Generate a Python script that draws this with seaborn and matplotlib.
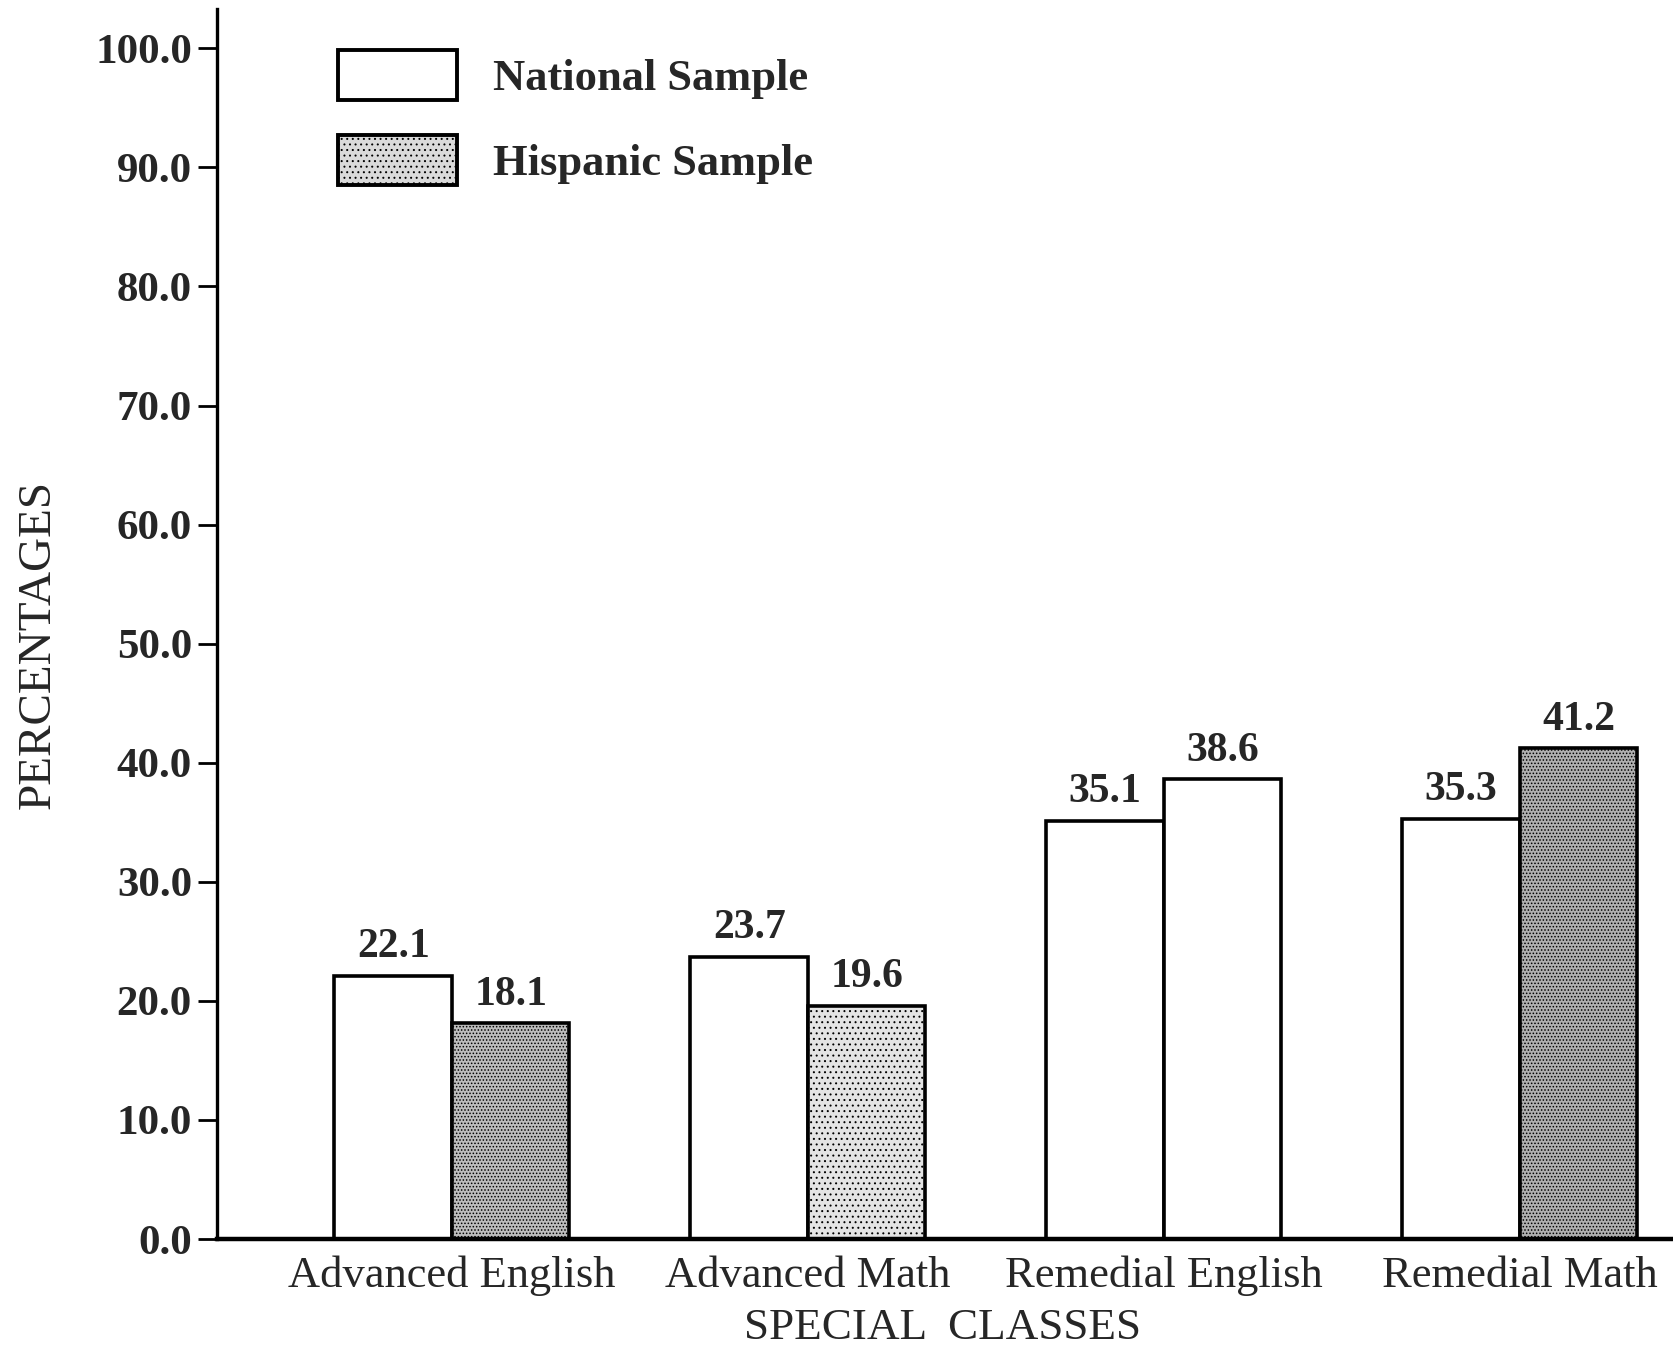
import matplotlib
matplotlib.use("Agg")
import matplotlib.pyplot as plt
import seaborn as sns
import pandas as pd
from matplotlib.patches import Patch

# Percent of students enrolled in special classes
classes = ["Advanced English", "Advanced Math", "Remedial English", "Remedial Math"]
national = [22.1, 23.7, 35.1, 35.3]
hispanic = [18.1, 19.6, 38.6, 41.2]
samples = ["National Sample", "Hispanic Sample"]
y_ticks = [0, 10, 20, 30, 40, 50, 60, 70, 80, 90, 100]

# stipple shading of the Hispanic bars
hisp_faces = ["#bdbdbd", "#e4e4e4", "#ffffff", "#b0b0b0"]
hisp_hatches = [".....", "...", "", "....."]

df = pd.DataFrame({
    "Class": classes * 2,
    "Sample": [samples[0]] * len(classes) + [samples[1]] * len(classes),
    "Percent": national + hispanic,
})

sns.set_theme(style="white")
plt.rcParams["font.family"] = ["Liberation Serif", "DejaVu Serif"]
plt.rcParams["hatch.linewidth"] = 0.7

W, H = 1673, 1351
fig = plt.figure(figsize=(W / 100, H / 100), dpi=100)
ax = fig.add_axes([217 / W, 112 / H, (W - 217) / W, 1230 / H])

sns.barplot(
    data=df, x="Class", y="Percent", hue="Sample",
    order=classes, hue_order=samples,
    palette=["white", "#c8c8c8"], saturation=1,
    width=0.66, gap=0, edgecolor="black", linewidth=2.6,
    legend=False, ax=ax,
)

for patch, fc, ht in zip(ax.containers[1], hisp_faces, hisp_hatches):
    patch.set_facecolor(fc)
    patch.set_hatch(ht)

for cont, vals in zip(ax.containers, [national, hispanic]):
    ax.bar_label(cont, labels=[f"{v:.1f}" for v in vals], padding=7,
                 fontsize=30, fontweight="bold")

ax.set_xlim(-0.66, 3.43)
ax.set_ylim(0, 103.3)
ax.set_yticks(y_ticks)
ax.set_yticklabels([f"{t:.1f}" for t in y_ticks], fontsize=31, fontweight="bold")
ax.tick_params(axis="y", left=True, length=14, width=2, direction="out",
               pad=4, color="black")
ax.tick_params(axis="x", bottom=False, length=0, pad=12, labelsize=32)

for side in ["top", "right"]:
    ax.spines[side].set_visible(False)
ax.spines["left"].set_color("black")
ax.spines["left"].set_linewidth(2.4)
ax.spines["bottom"].set_color("black")
ax.spines["bottom"].set_linewidth(3.2)

ax.set_xlabel("SPECIAL  CLASSES", fontsize=32.5)
ax.set_ylabel("PERCENTAGES", fontsize=34)
ax.xaxis.set_label_coords(0.498, -0.056)
ax.yaxis.set_label_coords(-0.108, 0.483)

handles = [
    Patch(facecolor="white", edgecolor="black", linewidth=2.8),
    Patch(facecolor="#dadada", edgecolor="black", hatch="...", linewidth=2.8),
]
fig.legend(handles, samples, loc="upper left",
           bbox_to_anchor=(338 / W, 1 - 50 / H), frameon=False,
           prop={"size": 32, "weight": "bold"},
           handlelength=2.68, handleheight=1.354, labelspacing=0.79,
           handletextpad=0.81, borderpad=0, borderaxespad=0)

fig.savefig("out.png", dpi=100)
